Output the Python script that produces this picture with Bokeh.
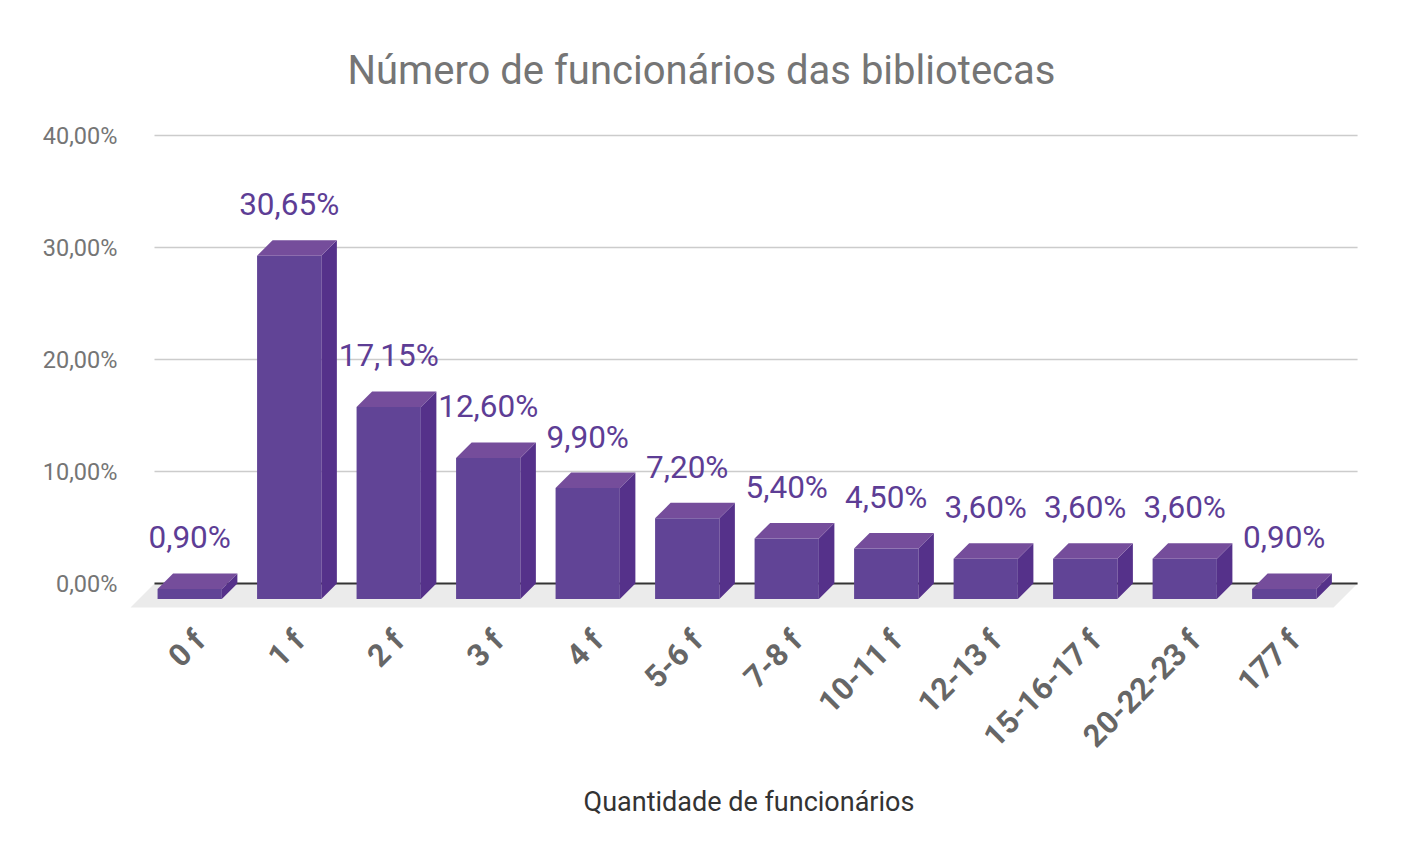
import math
from bokeh.plotting import figure
from bokeh.models import Range1d, FixedTicker, ColumnDataSource
from bokeh.embed import file_html
from bokeh.resources import INLINE
from bokeh.core.properties import value

# ---------------- data ----------------
categories = ["0 f", "1 f", "2 f", "3 f", "4 f", "5-6 f", "7-8 f",
              "10-11 f", "12-13 f", "15-16-17 f", "20-22-23 f", "177 f"]
percentages = [0.90, 30.65, 17.15, 12.60, 9.90, 7.20, 5.40,
               4.50, 3.60, 3.60, 3.60, 0.90]
y_ticks = [0, 10, 20, 30, 40]
y_tick_labels = ["0,00%", "10,00%", "20,00%", "30,00%", "40,00%"]
title_text = "Número de funcionários das bibliotecas"
x_title = "Quantidade de funcionários"

# ---------------- style / geometry ----------------
FONT = "Roboto"
FACE_W = 0.646      # front face width (slot units)
DX = 0.156          # 3D depth along x (slot units)
DY = 1.384          # 3D depth along y (percent units)
FLOOR_DX = 0.241
FLOOR_DY = 2.143
GRID_L, GRID_R = -0.354, 11.737
LABEL_LIFT = 4.55
XLAB_DX, XLAB_Y = 0.10, -4.64

C_FRONT = "#614496"
C_SIDE = "#55318a"
C_TOP = "#754d9b"
C_LABEL = "#5d3d95"

xs = list(range(len(categories)))
hw = FACE_W / 2

p = figure(width=1402, height=862, output_backend="svg", toolbar_location=None,
           x_range=Range1d(-0.6453, 11.887), y_range=Range1d(-16.696, 43.125),
           min_border_left=125, min_border_right=30, min_border_top=100,
           min_border_bottom=92)
p.outline_line_color = None
p.xgrid.visible = False
p.ygrid.visible = False
p.background_fill_color = "white"
p.border_fill_color = "white"

# title
p.title.text = title_text
p.title.text_font = FONT
p.title.text_font_size = "40px"
p.title.text_font_style = "normal"
p.title.text_color = "#757575"
p.title.align = "left"
p.title.offset = 222
p.title.standoff = 13

# y axis
p.yaxis.ticker = FixedTicker(ticks=y_ticks)
p.yaxis.major_label_overrides = {t: l for t, l in zip(y_ticks, y_tick_labels)}
p.yaxis.major_label_text_font = FONT
p.yaxis.major_label_text_font_size = "23.5px"
p.yaxis.major_label_text_color = "#757575"
p.yaxis.axis_line_color = None
p.yaxis.major_tick_line_color = None
p.yaxis.major_tick_out = 0
p.yaxis.major_tick_in = 0
p.yaxis.minor_tick_line_color = None
p.yaxis.major_label_standoff = 8

# x axis: only its title
p.xaxis.ticker = FixedTicker(ticks=[])
p.xaxis.axis_line_color = None
p.xaxis.major_tick_line_color = None
p.xaxis.major_tick_out = 0
p.xaxis.minor_tick_line_color = None
p.xaxis.axis_label = x_title
p.xaxis.axis_label_text_font = FONT
p.xaxis.axis_label_text_font_size = "27px"
p.xaxis.axis_label_text_font_style = "normal"
p.xaxis.axis_label_text_color = "#333333"
p.xaxis.axis_label_standoff = 15

# floor
p.patch([GRID_L, GRID_R, GRID_R - FLOOR_DX, GRID_L - FLOOR_DX],
        [0, 0, -FLOOR_DY, -FLOOR_DY], fill_color="#ebebeb", line_color=None)

# gridlines
grid_vals = [t for t in y_ticks if t != 0]
p.segment(x0=[GRID_L] * len(grid_vals), x1=[GRID_R] * len(grid_vals),
          y0=grid_vals, y1=grid_vals, line_color="#cccccc", line_width=1.5)
p.segment(x0=[GRID_L], x1=[GRID_R], y0=[0], y1=[0], line_color="#333333", line_width=2)

# bars (3D)
front = ColumnDataSource(dict(
    left=[x - hw for x in xs], right=[x + hw for x in xs],
    bottom=[-DY] * len(xs), top=[v - DY for v in percentages]))
p.quad(left="left", right="right", bottom="bottom", top="top", source=front,
       fill_color=C_FRONT, line_color=None)

side_x = [[x + hw, x + hw + DX, x + hw + DX, x + hw] for x in xs]
side_y = [[-DY, 0, v, v - DY] for v in percentages]
p.patches(side_x, side_y, fill_color=C_SIDE, line_color=None)

top_x = [[x - hw, x + hw, x + hw + DX, x - hw + DX] for x in xs]
top_y = [[v - DY, v - DY, v, v] for v in percentages]
p.patches(top_x, top_y, fill_color=C_TOP, line_color=None)

# value labels
labels = [f"{v:.2f}".replace(".", ",") + "%" for v in percentages]
p.text(x=xs, y=[v - DY + LABEL_LIFT for v in percentages], text=labels,
       text_font=value(FONT), text_font_size="31.5px", text_color=C_LABEL,
       text_align="center", text_baseline="middle")

# category labels
p.text(x=[x + XLAB_DX for x in xs], y=[XLAB_Y] * len(xs), text=categories,
       angle=math.pi / 4, text_font=value(FONT), text_font_size="31px",
       text_font_style="bold", text_color="#666666",
       text_align="right", text_baseline="middle")

open("out.html", "w").write(file_html(p, INLINE))
